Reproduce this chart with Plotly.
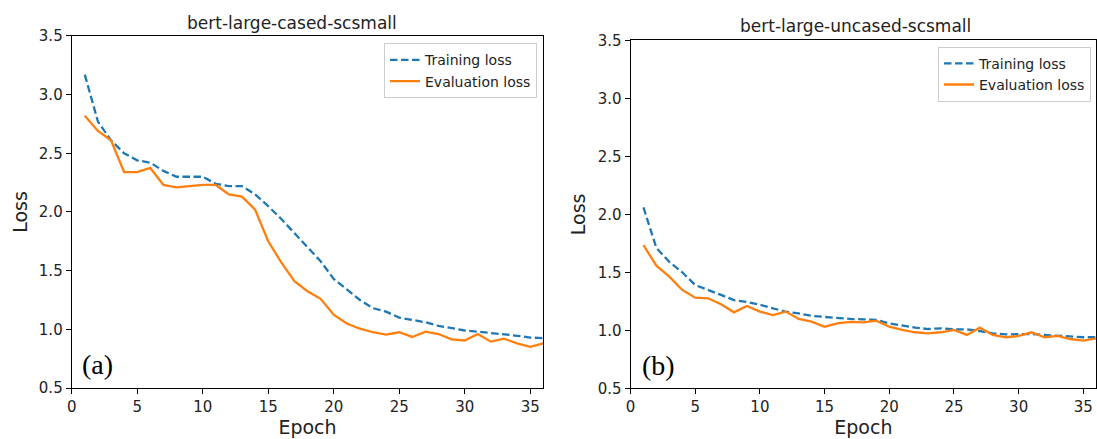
import plotly.graph_objects as go

epochs = list(range(1, 37))

cased_train = [3.17, 2.77, 2.61, 2.50, 2.44, 2.42, 2.35, 2.30, 2.30, 2.30, 2.24, 2.22,
               2.22, 2.15, 2.05, 1.94, 1.82, 1.70, 1.58, 1.43, 1.34, 1.25, 1.18, 1.15,
               1.10, 1.08, 1.06, 1.03, 1.01, 0.99, 0.98, 0.97, 0.955, 0.945, 0.93, 0.925]
cased_eval = [2.82, 2.69, 2.61, 2.34, 2.34, 2.375, 2.23, 2.21, 2.22, 2.23, 2.23, 2.15,
              2.13, 2.02, 1.75, 1.57, 1.41, 1.325, 1.26, 1.125, 1.05, 1.005, 0.975, 0.955,
              0.975, 0.935, 0.98, 0.96, 0.915, 0.905, 0.96, 0.895, 0.92, 0.88, 0.85, 0.88]

uncased_train = [2.06, 1.71, 1.59, 1.50, 1.39, 1.35, 1.305, 1.26, 1.245, 1.22, 1.19, 1.16,
                 1.145, 1.125, 1.115, 1.105, 1.098, 1.095, 1.089, 1.06, 1.04, 1.023, 1.011, 1.017,
                 1.008, 1.008, 0.994, 0.974, 0.965, 0.965, 0.968, 0.96, 0.954, 0.945, 0.94, 0.94]
uncased_eval = [1.735, 1.557, 1.462, 1.348, 1.281, 1.276, 1.224, 1.155, 1.21, 1.161, 1.132, 1.161,
                1.098, 1.075, 1.031, 1.06, 1.072, 1.069, 1.083, 1.031, 1.003, 0.983, 0.974, 0.983,
                1.003, 0.96, 1.023, 0.96, 0.94, 0.951, 0.983, 0.94, 0.951, 0.925, 0.911, 0.931]

x_ticks = [0, 5, 10, 15, 20, 25, 30, 35]
y_ticks = [0.5, 1.0, 1.5, 2.0, 2.5, 3.0, 3.5]
titles = ["bert-large-cased-scsmall", "bert-large-uncased-scsmall"]
panel_labels = ["(a)", "(b)"]
series_names = ["Training loss", "Evaluation loss"]

BLUE = "#1f77b4"
ORANGE = "#ff7f0e"
W, H = 1097, 439
FONT = "DejaVu Sans"

fig = go.Figure()

# left panel
fig.add_trace(go.Scatter(x=epochs, y=cased_train, mode="lines", name=series_names[0],
                         line=dict(color=BLUE, width=2.3, dash="7.5px,3.5px"),
                         xaxis="x", yaxis="y", legend="legend"))
fig.add_trace(go.Scatter(x=epochs, y=cased_eval, mode="lines", name=series_names[1],
                         line=dict(color=ORANGE, width=2.3),
                         xaxis="x", yaxis="y", legend="legend"))
# right panel
fig.add_trace(go.Scatter(x=epochs, y=uncased_train, mode="lines", name=series_names[0],
                         line=dict(color=BLUE, width=2.3, dash="7.5px,3.5px"),
                         xaxis="x2", yaxis="y2", legend="legend2"))
fig.add_trace(go.Scatter(x=epochs, y=uncased_eval, mode="lines", name=series_names[1],
                         line=dict(color=ORANGE, width=2.3),
                         xaxis="x2", yaxis="y2", legend="legend2"))


def px_x(p):
    return p / W


def px_y(p):
    return (H - p) / H


axis_common = dict(showline=True, linecolor="black", linewidth=1, mirror=True,
                   ticks="outside", ticklen=5, tickwidth=1, tickcolor="black",
                   showgrid=False, zeroline=False, automargin=False,
                   tickfont=dict(family=FONT, size=15, color="#222"))

xcommon = dict(axis_common, range=[0, 36], tickvals=x_ticks,
               title=dict(text="Epoch", font=dict(family=FONT, size=19, color="#222"), standoff=3))
ycommon = dict(axis_common, range=[0.5, 3.5], tickvals=y_ticks, tickformat=".1f",
               title=dict(text="Loss", font=dict(family=FONT, size=19, color="#222"), standoff=6))

legend_common = dict(bgcolor="white", bordercolor="#cccccc", borderwidth=1,
                     font=dict(family=FONT, size=14, color="#222"),
                     xanchor="right", yanchor="top", itemwidth=30, tracegroupgap=0)

fig.update_layout(
    width=W, height=H,
    margin=dict(l=0, r=0, t=0, b=0, autoexpand=False),
    paper_bgcolor="white", plot_bgcolor="white",
    font=dict(family=FONT, color="#222"),
    xaxis=dict(xcommon, domain=[px_x(71.7), px_x(543.3)], anchor="y"),
    yaxis=dict(ycommon, domain=[px_y(388), px_y(35.9)], anchor="x"),
    xaxis2=dict(xcommon, domain=[px_x(630.5), px_x(1096.3)], anchor="y2"),
    yaxis2=dict(ycommon, domain=[px_y(388.3), px_y(40.3)], anchor="x2"),
    legend=dict(legend_common, x=px_x(537), y=px_y(43.3)),
    legend2=dict(legend_common, x=px_x(1091), y=px_y(46.7)),
    showlegend=True,
)

fig.add_annotation(text=titles[0], xref="paper", yref="paper", x=px_x(292), y=px_y(22.5),
                   xanchor="center", yanchor="middle", showarrow=False,
                   font=dict(family=FONT, size=17, color="#222"))
fig.add_annotation(text=titles[1], xref="paper", yref="paper", x=px_x(855.5), y=px_y(26),
                   xanchor="center", yanchor="middle", showarrow=False,
                   font=dict(family=FONT, size=17, color="#222"))

fig.add_annotation(text=panel_labels[0], xref="x", yref="y", x=0.6, y=0.7,
                   xanchor="left", yanchor="middle", showarrow=False,
                   font=dict(family="Liberation Serif", size=28, color="black"))
fig.add_annotation(text=panel_labels[1], xref="x2", yref="y2", x=0.7, y=0.7,
                   xanchor="left", yanchor="middle", showarrow=False,
                   font=dict(family="Liberation Serif", size=28, color="black"))

fig.write_html("out.html",
               config={"displayModeBar": False},
               post_script="document.body.style.margin='0';document.body.style.overflow='hidden';")
